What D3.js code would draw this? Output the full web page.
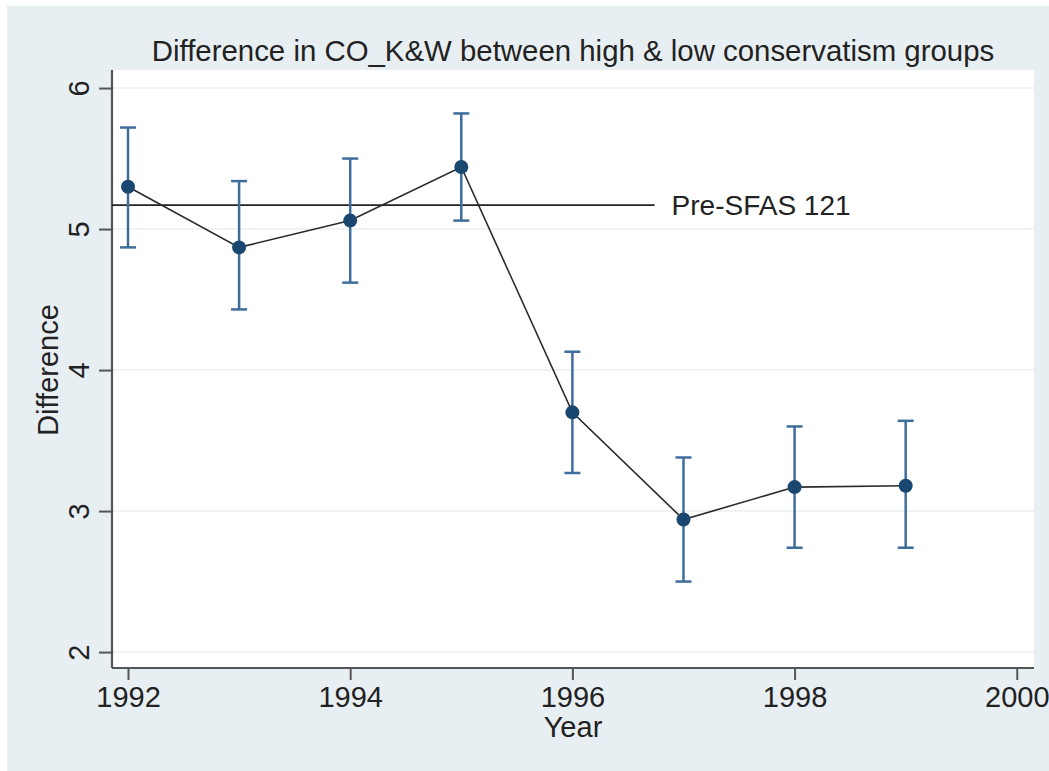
<!DOCTYPE html>
<html>
<head>
<meta charset="utf-8">
<script src="https://cdn.jsdelivr.net/npm/d3@7"></script>
<style>
  html, body { margin: 0; background: #fff; overflow: hidden; }
  svg { display: block; }
  text { font-family: "Liberation Sans Narrow", "Arial Narrow", "Liberation Sans", Arial, sans-serif; fill: #222; }
</style>
</head>
<body>
<div id="chart"></div>
<script>
// data
const years = [1992, 1993, 1994, 1995, 1996, 1997, 1998, 1999];
const diffs = [5.30, 4.87, 5.06, 5.44, 3.70, 2.94, 3.17, 3.18];
const ciLow = [4.87, 4.43, 4.62, 5.06, 3.27, 2.50, 2.74, 2.74];
const ciHigh = [5.72, 5.34, 5.50, 5.82, 4.13, 3.38, 3.60, 3.64];
const xTicks = [1992, 1994, 1996, 1998, 2000];
const yTicks = [2, 3, 4, 5, 6];
const refValue = 5.17;
const refSpan = [1991.856, 1996.74];
const refLabel = 'Pre-SFAS 121';

const svgW = 1049, svgH = 771;
const plotL = 112, plotR = 1034, plotT = 70, plotB = 668;

const svg = d3.select('#chart').append('svg')
    .attr('width', svgW)
    .attr('height', svgH);

// outer region
svg.append('rect').attr('x', 7).attr('y', 6).attr('width', svgW - 7).attr('height', svgH - 6)
   .attr('fill', '#e8eff2');
svg.append('rect').attr('x', plotL).attr('y', plotT).attr('width', plotR - plotL).attr('height', plotB - plotT)
   .attr('fill', '#fff');

const xScale = d3.scaleLinear().domain([1991.856, 2000.155]).range([plotL, plotR]);
const yScale = d3.scaleLinear().domain([1.887, 6.128]).range([plotB, plotT]);

// grid
svg.append('g').selectAll('line').data(yTicks).enter().append('line')
   .attr('x1', plotL).attr('x2', plotR)
   .attr('y1', d => yScale(d)).attr('y2', d => yScale(d))
   .attr('stroke', '#eef4f5').attr('stroke-width', 2);

// axes
const xAxis = d3.axisBottom(xScale).tickValues(xTicks).tickFormat(d3.format('d')).tickSize(12).tickPadding(6);
const yAxis = d3.axisLeft(yScale).tickValues(yTicks).tickFormat(d3.format('d')).tickSize(13).tickPadding(8);

const gx = svg.append('g').attr('transform', `translate(0, ${plotB})`).call(xAxis);
const gy = svg.append('g').attr('transform', `translate(${plotL}, 0)`).call(yAxis);

[gx, gy].forEach(g => {
  g.select('.domain').attr('stroke', '#555').attr('stroke-width', 2.2);
  g.selectAll('.tick line').attr('stroke', '#555').attr('stroke-width', 2);
  g.selectAll('.tick text').attr('font-size', 29).attr('fill', '#222')
   .style('font-family', '"Liberation Sans Narrow", "Liberation Sans", sans-serif');
});
gx.select('.domain').attr('d', `M${plotL},0H${plotR}`);
gy.select('.domain').attr('d', `M0,${plotB}V${plotT}`);
gy.selectAll('.tick text')
  .attr('text-anchor', 'middle')
  .attr('transform', 'rotate(-90)')
  .attr('x', 0)
  .attr('y', -23)
  .attr('dy', 0);

// reference line
svg.append('line')
   .attr('x1', xScale(refSpan[0])).attr('x2', xScale(refSpan[1]))
   .attr('y1', yScale(refValue)).attr('y2', yScale(refValue))
   .attr('stroke', '#222').attr('stroke-width', 1.6);
svg.append('text')
   .attr('x', xScale(refSpan[1]) + 17).attr('y', yScale(refValue) + 10)
   .attr('font-size', 28).text(refLabel);

// error bars
const rows = years.map((y, i) => ({ year: y, v: diffs[i], lo: ciLow[i], hi: ciHigh[i] }));
const bars = svg.append('g').attr('stroke', '#3f6d9b').attr('stroke-width', 2.5);
bars.selectAll('.stem').data(rows).enter().append('line')
    .attr('x1', d => xScale(d.year)).attr('x2', d => xScale(d.year))
    .attr('y1', d => yScale(d.lo)).attr('y2', d => yScale(d.hi));
bars.selectAll('.caplo').data(rows).enter().append('line')
    .attr('x1', d => xScale(d.year) - 8).attr('x2', d => xScale(d.year) + 8)
    .attr('y1', d => yScale(d.lo)).attr('y2', d => yScale(d.lo));
bars.selectAll('.caphi').data(rows).enter().append('line')
    .attr('x1', d => xScale(d.year) - 8).attr('x2', d => xScale(d.year) + 8)
    .attr('y1', d => yScale(d.hi)).attr('y2', d => yScale(d.hi));

// connecting line
const line = d3.line().x(d => xScale(d.year)).y(d => yScale(d.v));
svg.append('path').datum(rows)
   .attr('d', line).attr('fill', 'none')
   .attr('stroke', '#2a2a2a').attr('stroke-width', 1.6);

// markers
svg.append('g').selectAll('circle').data(rows).enter().append('circle')
   .attr('cx', d => xScale(d.year)).attr('cy', d => yScale(d.v))
   .attr('r', 7).attr('fill', '#1a476f');

// titles
svg.append('text').attr('x', 573).attr('y', 61).attr('text-anchor', 'middle')
   .attr('font-size', 29.4).text('Difference in CO_K&W between high & low conservatism groups');
svg.append('text').attr('x', 573).attr('y', 737).attr('text-anchor', 'middle')
   .attr('font-size', 29).text('Year');
svg.append('text').attr('transform', 'translate(58, 370) rotate(-90)').attr('text-anchor', 'middle')
   .attr('font-size', 29).text('Difference');
</script>
</body>
</html>
